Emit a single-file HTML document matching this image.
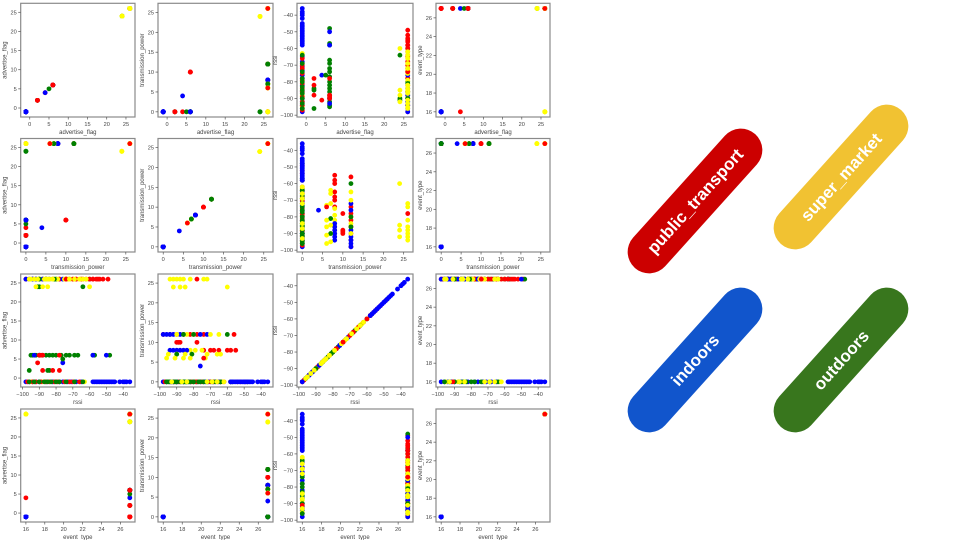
<!DOCTYPE html>
<html><head><meta charset="utf-8">
<style>
html,body{margin:0;padding:0;background:#fff;}
svg{display:block;font-family:"Liberation Sans",sans-serif;}
</style></head>
<body>
<svg id="chart" width="960" height="540" viewBox="0 0 960 540" xmlns="http://www.w3.org/2000/svg">
<g id="panels"></g>
<g id="legend">
  <g transform="translate(695,201) rotate(-48)">
    <rect x="-90" y="-21.5" width="180" height="43" rx="21.5" fill="#cc0000"/>
    <text x="0" y="6" text-anchor="middle" fill="#fff" font-size="17" font-weight="bold">public_transport</text>
  </g>
  <g transform="translate(841,177) rotate(-48)">
    <rect x="-90" y="-21.5" width="180" height="43" rx="21.5" fill="#f1c232"/>
    <text x="0" y="6" text-anchor="middle" fill="#fff" font-size="17" font-weight="bold">super_market</text>
  </g>
  <g transform="translate(695,360) rotate(-48)">
    <rect x="-90" y="-21.5" width="180" height="43" rx="21.5" fill="#1155cc"/>
    <text x="0" y="6" text-anchor="middle" fill="#fff" font-size="17" font-weight="bold">indoors</text>
  </g>
  <g transform="translate(841,360) rotate(-48)">
    <rect x="-90" y="-21.5" width="180" height="43" rx="21.5" fill="#38761d"/>
    <text x="0" y="6" text-anchor="middle" fill="#fff" font-size="17" font-weight="bold">outdoors</text>
  </g>
</g>
</svg>
<script>
// ---- data: groups of records sharing advertise_flag / transmission_power / event_type / class ----
const groupAdv   = [-1,-1,26,-1,-1, 2, 2, 4, 4, 5, 6, 6, 6,24,24,26,26,26,26,26,26,26,26,26,26,26,26,26,26,-1];
const groupTp    = [ 0, 0, 0, 0, 0, 0, 0, 0, 4, 0, 0, 0,10, 0,24,26,26,12,12,12,12, 8, 8, 8, 7, 7, 6, 6, 0, 0];
const groupEvt   = [16,16,27,27,16,27,27,16,27,27,27,27,27,27,27,27,27,27,27,27,27,27,27,27,27,27,27,27,16,16];
const groupClass = ['b','y','r','r','g','g','r','r','b','g','g','b','r','g','y','y','r','r','b','y','g','r','y','b','y','g','y','r','y','b'];
const groupRssi = [
 [-65,-68,-71,-73,-76,-78,-82,-86,-90,-92,-94,-96,-98],
 [-63,-88,-95],
 [-49,-52,-54,-58,-62,-64,-68],
 [-66,-70,-72,-75,-79,-81,-84,-86,-89,-92,-94,-97],
 [-64,-69,-74,-78,-80,-83,-85,-87,-90,-93,-96],
 [-96,-85,-84],
 [-78,-82,-88],
 [-91],
 [-76],
 [-76],
 [-48,-57,-58,-67,-69,-72,-74,-77,-80,-82,-84,-86,-88,-90,-92,-94,-95],
 [-50,-58,-90,-93],
 [-78,-88,-89,-90],
 [-64,-90,-91],
 [-60,-85,-88,-92],
 [-72,-74,-82,-86,-88,-90,-92,-94],
 [-78],
 [-56,-74,-78,-82,-86,-90,-94,-98],
 [-72,-76,-88,-92,-94,-96,-98],
 [-65,-70,-80,-84,-90],
 [-60,-80,-86],
 [-55,-58,-60,-65,-68,-70,-74],
 [-75,-79,-82,-86,-88,-90],
 [-84,-86,-88,-90,-92,-94],
 [-64,-66,-72,-85,-90,-95],
 [-81,-90],
 [-73,-82,-86,-91,-96],
 [-74],
 [-62,-66,-69,-72,-84,-87,-93],
 [-36,-38,-39,-40,-42,-45,-46,-47,-48,-49,-50,-51,-52,-53,-54,-55,-56,-57,-58]
];
const varNames = ['advertise_flag','transmission_power','rssi','event_type'];
const ticksAdv  = [0,5,10,15,20,25];
const ticksTp   = [0,5,10,15,20,25];
const ticksRssi = [-100,-90,-80,-70,-60,-50,-40];
const ticksEvt  = [16,18,20,22,24,26];
const classColor = {b:'#0000ff', r:'#ff0000', g:'#008000', y:'#ffff00'};

const records = [];
groupRssi.forEach((list,gi)=>{
  list.forEach(v=>records.push([groupAdv[gi],groupTp[gi],v,groupEvt[gi],groupClass[gi]]));
});
const allTicks = [ticksAdv,ticksTp,ticksRssi,ticksEvt];
const domains = [0,1,2,3].map(k=>{
  let mn=Infinity,mx=-Infinity;
  records.forEach(r=>{mn=Math.min(mn,r[k]);mx=Math.max(mx,r[k]);});
  const m=(mx-mn)*0.05; return [mn-m,mx+m];
});

const colX=[[20.7,135],[158,273],[297,413],[436,550]];
const rowY=[[3.3,117],[138.5,252],[274,387],[409,522]];
const NS='http://www.w3.org/2000/svg';
const root=document.getElementById('panels');
function mk(tag,attrs,parent){const e=document.createElementNS(NS,tag);for(const k in attrs)e.setAttribute(k,attrs[k]);parent.appendChild(e);return e;}

for(let row=0;row<4;row++){
  for(let col=0;col<4;col++){
    const xv=row, yv=col;
    const g=mk('g',{},root);
    
    
    const [x0,x1]=colX[col],[y0,y1]=rowY[row];
    const dx=domains[xv],dy=domains[yv];
    const sx=v=>x0+(v-dx[0])/(dx[1]-dx[0])*(x1-x0);
    const sy=v=>y1-(v-dy[0])/(dy[1]-dy[0])*(y1-y0);
    const pts=mk('g',{},g);
    
    
    records.forEach(r=>{
      const c=mk('circle',{cx:sx(r[xv]).toFixed(2),cy:sy(r[yv]).toFixed(2),r:2.4,fill:classColor[r[4]]},pts);
      
      
    });
    const fr=mk('rect',{x:x0,y:y0,width:x1-x0,height:y1-y0,fill:'none',stroke:'#8a8a8a','stroke-width':1.2},g);
    
    
    const xa=mk('g',{},g);
    
    
    allTicks[xv].forEach(t=>{
      const x=sx(t); if(x<x0-0.5||x>x1+0.5) return;
      mk('line',{x1:x,x2:x,y1:y1,y2:y1+2.5,stroke:'#555','stroke-width':0.7},xa);
      const tx=mk('text',{x:x,y:y1+9,'font-size':5.6,fill:'#444','text-anchor':'middle'},xa);
      tx.textContent=(t<0?'\u2212'+(-t):t);
    });
    const xl=mk('text',{x:(x0+x1)/2,y:y1+17,'font-size':6,fill:'#444','text-anchor':'middle'},g);
    
    
    xl.textContent=varNames[xv];
    const ya=mk('g',{},g);
    
    
    allTicks[yv].forEach(t=>{
      const y=sy(t); if(y<y0-0.5||y>y1+0.5) return;
      mk('line',{x1:x0-2.5,x2:x0,y1:y,y2:y,stroke:'#555','stroke-width':0.7},ya);
      const tx=mk('text',{x:x0-4,y:y+2,'font-size':5.6,fill:'#444','text-anchor':'end'},ya);
      tx.textContent=(t<0?'\u2212'+(-t):t);
    });
    const off = yv===2 ? 20 : 14;
    const yl=mk('text',{x:0,y:0,'font-size':6,fill:'#444','text-anchor':'middle',transform:`translate(${x0-off},${(y0+y1)/2}) rotate(-90)`},g);
    
    
    yl.textContent=varNames[yv];
  }
}
</script>
</body></html>
